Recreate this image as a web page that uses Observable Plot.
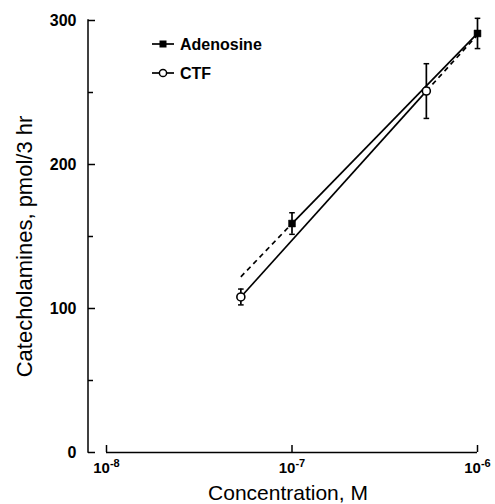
<!DOCTYPE html>
<html><head><meta charset="utf-8">
<script src="https://cdn.jsdelivr.net/npm/d3@7"></script>
<script src="https://cdn.jsdelivr.net/npm/@observablehq/plot@0.6"></script>
<style>
body{margin:0;background:#fff;}
#chart{position:relative;width:495px;height:504px;font-family:"Liberation Sans",Arial,sans-serif;}
#legend{position:absolute;left:0;top:0;}
</style></head><body><div id="chart"></div>
<script>
// ---- data ----
const seriesNames = ["Adenosine", "CTF"];
const adenosineConc = [1e-7, 1e-6];
const adenosineMean = [159, 291];
const adenosineSem = [7.5, 10.5];
const ctfConc = [5.3e-8, 5.3e-7];
const ctfMean = [108, 251];
const ctfSem = [5.5, 19];
// fitted lines (solid over tested range, dashed extrapolation)
const adenosineFitConc = [5.3e-8, 1e-7, 1e-6];
const adenosineFitValue = [122, 159, 291];
const adenosineFitDashed = [true, false];
const ctfFitConc = [5.3e-8, 5.3e-7, 1e-6];
const ctfFitValue = [108, 251, 290];
const ctfFitDashed = [false, true];
const xDomain = [1e-8, 1e-6];
const xTickValues = [1e-8, 1e-7, 1e-6];
const xTickExponents = ["-8", "-7", "-6"];
const yDomain = [0, 300];
const yTickValues = [0, 100, 200, 300];
const yMinorTickValues = [50, 150, 250];
const xTitle = "Concentration, M";
const yTitle = "Catecholamines, pmol/3 hr";

// ---- build tables ----
const adenosine = adenosineConc.map((c, i) => ({conc: c, mean: adenosineMean[i], sem: adenosineSem[i]}));
const ctf = ctfConc.map((c, i) => ({conc: c, mean: ctfMean[i], sem: ctfSem[i]}));
const points = [...adenosine, ...ctf];
function segs(xs, ys, dashed) {
  return dashed.map((d, i) => ({x1: xs[i], y1: ys[i], x2: xs[i + 1], y2: ys[i + 1], dashed: d}));
}
const fitSegs = [...segs(adenosineFitConc, adenosineFitValue, adenosineFitDashed),
                 ...segs(ctfFitConc, ctfFitValue, ctfFitDashed)];
const caps = points.flatMap(p => [{conc: p.conc, v: p.mean - p.sem}, {conc: p.conc, v: p.mean + p.sem}]);
const capSymbol = {draw(ctx, size) { const w = Math.sqrt(size / Math.PI); ctx.moveTo(-w, 0); ctx.lineTo(w, 0); }};
const xLabel = d => {
  const i = xTickValues.findIndex(t => Math.abs(Math.log10(t) - Math.log10(d)) < 1e-6);
  return i < 0 ? "" : "10^" + xTickExponents[i];
};
// y-axis line drawn through the y scale at the frame's left edge
const yAxisLine = (index, scales, values, dims) => {
  const l = document.createElementNS("http://www.w3.org/2000/svg", "line");
  l.setAttribute("x1", dims.marginLeft); l.setAttribute("x2", dims.marginLeft);
  l.setAttribute("y1", scales.y(yDomain[0]) + 0.75); l.setAttribute("y2", scales.y(yDomain[1]) - 0.75);
  l.setAttribute("stroke", "black"); l.setAttribute("stroke-width", 1.5);
  return l;
};

const plot = Plot.plot({
  width: 495, height: 504,
  marginLeft: 88, marginRight: 18, marginTop: 20, marginBottom: 52,
  style: {fontFamily: '"Liberation Sans", Arial, sans-serif', color: "black", background: "white", overflow: "visible"},
  x: {type: "log", domain: xDomain, range: [106, 477]},
  y: {domain: yDomain},
  marks: [
    yAxisLine,
    Plot.axisY({ticks: yTickValues, tickSize: -7, tickFormat: () => "", label: null, strokeWidth: 1.5}),
    Plot.axisY({ticks: yMinorTickValues, tickSize: -5, tickFormat: () => "", label: null, strokeWidth: 1.5}),
    Plot.axisY({ticks: yTickValues, tickSize: 0, tickPadding: 12, label: null, fontSize: 16, fontWeight: "bold"}),
    Plot.axisX({ticks: xTickValues, tickSize: -7, tickFormat: () => "", label: null, strokeWidth: 1.5}),
    Plot.axisX({ticks: xTickValues, tickSize: 0, tickPadding: 10, tickFormat: xLabel, label: null, fontSize: 15, fontWeight: "bold"}),
    Plot.ruleY([yDomain[0]], {x1: xDomain[0], x2: xDomain[1], strokeWidth: 1.5}),
    Plot.text([yTitle], {text: d => d, frameAnchor: "left", textAnchor: "middle", lineAnchor: "middle", rotate: -90, dx: -64, dy: 10, fontSize: 22, fill: "black"}),
    Plot.text([xTitle], {text: d => d, frameAnchor: "bottom", textAnchor: "middle", lineAnchor: "middle", dx: 5, dy: 41, fontSize: 21, fill: "black"}),
    Plot.link(fitSegs.filter(d => !d.dashed), {x1: "x1", y1: "y1", x2: "x2", y2: "y2", stroke: "black", strokeWidth: 1.7}),
    Plot.link(fitSegs.filter(d => d.dashed), {x1: "x1", y1: "y1", x2: "x2", y2: "y2", stroke: "black", strokeWidth: 1.7, strokeDasharray: "5,4"}),
    Plot.ruleX(points, {x: "conc", y1: d => d.mean - d.sem, y2: d => d.mean + d.sem, stroke: "black", strokeWidth: 1.7}),
    Plot.dot(caps, {x: "conc", y: "v", symbol: capSymbol, r: 2.8, stroke: "black", strokeWidth: 1.5}),
    Plot.dot(adenosine, {x: "conc", y: "mean", symbol: "square", r: 3.9, fill: "black", stroke: "black", strokeWidth: 0.5}),
    Plot.dot(ctf, {x: "conc", y: "mean", symbol: "circle", r: 4, fill: "white", stroke: "black", strokeWidth: 1.6})
  ]
});

// superscripts for log tick labels
d3.select(plot).selectAll('g[aria-label="x-axis tick label"] text').each(function() {
  const t = this.textContent;
  if (!t.includes("^")) return;
  const [base, exp] = t.split("^");
  const el = d3.select(this).style("font-weight", "bold").style("font-size", "15px");
  el.text(null);
  el.append("tspan").style("font-size", "15px").text(base);
  el.append("tspan").attr("dy", "-6").style("font-size", "11px").text(exp);
});

const chart = document.getElementById("chart");
chart.appendChild(plot);

// legend
const leg = d3.select(chart).append("svg").attr("id", "legend").attr("width", 300).attr("height", 100);
seriesNames.forEach((name, i) => {
  const cy = 44 + i * 29;
  const g = leg.append("g");
  g.append("line").attr("x1", 152).attr("x2", 174).attr("y1", cy).attr("y2", cy).attr("stroke", "black").attr("stroke-width", 1.7);
  if (i === 0) g.append("rect").attr("x", 159.5).attr("y", cy - 3.5).attr("width", 7).attr("height", 7).attr("fill", "black");
  else g.append("circle").attr("cx", 163).attr("cy", cy).attr("r", 3.6).attr("fill", "white").attr("stroke", "black").attr("stroke-width", 1.5);
  g.append("text").attr("x", 180).attr("y", cy + 5.8).attr("font-size", 16).attr("font-weight", "bold")
    .attr("font-family", '"Liberation Sans", Arial, sans-serif').text(name);
});
</script></body></html>
